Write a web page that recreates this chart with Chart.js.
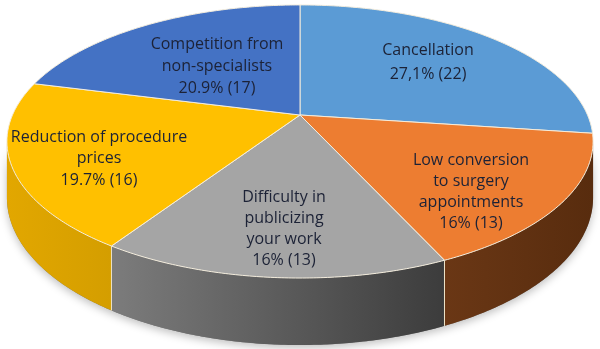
<!DOCTYPE html>
<html>
<head>
<meta charset="utf-8">
<script src="https://cdn.jsdelivr.net/npm/chart.js@4.4.0/dist/chart.umd.min.js"></script>
<style>
html, body { margin: 0; padding: 0; background: #fff; }
#chart { display: block; }
</style>
</head>
<body>
<canvas id="chart" width="600" height="349"></canvas>
<script>
// data
const categories = ['Cancellation', 'Low conversion to surgery appointments', 'Difficulty in publicizing your work', 'Reduction of procedure prices', 'Competition from non-specialists'];
const labelLines = [['Cancellation'], ['Low conversion', 'to surgery', 'appointments'], ['Difficulty in', 'publicizing', 'your work'], ['Reduction of procedure', 'prices'], ['Competition from', 'non-specialists']];
const counts = [22, 13, 13, 16, 17];
const percentLabels = ['27,1%', '16%', '16%', '19.7%', '20.9%'];

// styles
const topColors = ['#5b9bd5', '#ed7d31', '#a5a5a5', '#ffc000', '#4472c4'];
const sideColors = [['#3f7fbf', '#34679c'], ['#6a3715', '#582c0e'], ['#7c7c7c', '#3c3c3c'], ['#e2a700', '#d49e00'], ['#2f5597', '#27467c']];
const labelLayout = [
    { x: 428, y: 50, lh: 24 },
    { x: 471, y: 160, lh: 21 },
    { x: 284, y: 197, lh: 21 },
    { x: 99, y: 137, lh: 21.5 },
    { x: 217, y: 44, lh: 22 }
];

// perspective of the tilted disc
const view = { cx: 300, cy: 115, rx: 287.5, ry: 131.4, persp: 0.194, depth: 54 };

function project(a, h) {
    const w = 1 - view.persp * Math.sin(a);
    return { x: view.cx + view.rx * Math.cos(a) / w, y: view.cy + (view.ry * Math.sin(a) + h) / w };
}

function traceRim(ctx, a0, a1, h, first) {
    const steps = Math.max(2, Math.ceil(Math.abs(a1 - a0) / 0.01));
    for (let k = 0; k <= steps; k++) {
        const p = project(a0 + (a1 - a0) * k / steps, h);
        if (first && k === 0) ctx.moveTo(p.x, p.y);
        else ctx.lineTo(p.x, p.y);
    }
}

// draws the slices as a 3D disc, using the angles chart.js computed
const pie3d = {
    id: 'pie3d',
    beforeDatasetsDraw(chart) {
        const ctx = chart.ctx;
        const arcs = chart.getDatasetMeta(0).data;
        const lo = Math.asin(view.persp), hi = Math.PI - lo;

        // soft shadow under the body
        ctx.save();
        ctx.beginPath();
        traceRim(ctx, lo, hi, 0, true);
        traceRim(ctx, hi, lo, view.depth, false);
        ctx.closePath();
        ctx.shadowColor = 'rgba(0,0,0,0.25)';
        ctx.shadowBlur = 8;
        ctx.shadowOffsetY = 3;
        ctx.fillStyle = '#777';
        ctx.fill();
        ctx.restore();

        // side walls
        arcs.forEach((arc, i) => {
            const a0 = Math.max(arc.startAngle, lo), a1 = Math.min(arc.endAngle, hi);
            if (a1 <= a0) return;
            const pl = project(a1, 0), pr = project(a0, 0);
            const g = ctx.createLinearGradient(pl.x, 0, pr.x, 0);
            g.addColorStop(0, sideColors[i][0]);
            g.addColorStop(1, sideColors[i][1]);
            ctx.beginPath();
            traceRim(ctx, a0, a1, 0, true);
            traceRim(ctx, a1, a0, view.depth, false);
            ctx.closePath();
            ctx.fillStyle = g;
            ctx.fill();
        });

        // seams on the side
        ctx.strokeStyle = '#eee4c8';
        ctx.lineWidth = 1;
        arcs.forEach((arc) => {
            const a = arc.startAngle;
            if (a <= lo || a >= hi) return;
            const p = project(a, 0), q = project(a, view.depth);
            ctx.beginPath();
            ctx.moveTo(p.x, p.y);
            ctx.lineTo(q.x, q.y);
            ctx.stroke();
        });

        // top face
        arcs.forEach((arc) => {
            ctx.beginPath();
            ctx.moveTo(view.cx, view.cy);
            traceRim(ctx, arc.startAngle, arc.endAngle, 0, false);
            ctx.closePath();
            ctx.fillStyle = arc.options.backgroundColor;
            ctx.fill();
            ctx.strokeStyle = arc.options.borderColor;
            ctx.lineWidth = arc.options.borderWidth;
            ctx.stroke();
        });
        return false;
    },
    afterDraw(chart) {
        const ctx = chart.ctx;
        ctx.save();
        ctx.font = '16px "Open Sans"';
        ctx.fillStyle = '#1c2236';
        ctx.textAlign = 'center';
        ctx.textBaseline = 'middle';
        labelLines.forEach((lines, i) => {
            const all = lines.concat(percentLabels[i] + ' (' + counts[i] + ')');
            const pos = labelLayout[i];
            all.forEach((t, k) => ctx.fillText(t, pos.x, pos.y + k * pos.lh));
        });
        ctx.restore();
    }
};

const chart = new Chart(document.getElementById('chart'), {
    type: 'pie',
    data: {
        labels: categories,
        datasets: [{
            data: counts,
            backgroundColor: topColors,
            borderColor: '#f3ecdc',
            borderWidth: 1
        }]
    },
    options: {
        responsive: false,
        animation: false,
        events: [],
        plugins: {
            legend: { display: false },
            tooltip: { enabled: false }
        }
    },
    plugins: [pie3d]
});
</script>
</body>
</html>
